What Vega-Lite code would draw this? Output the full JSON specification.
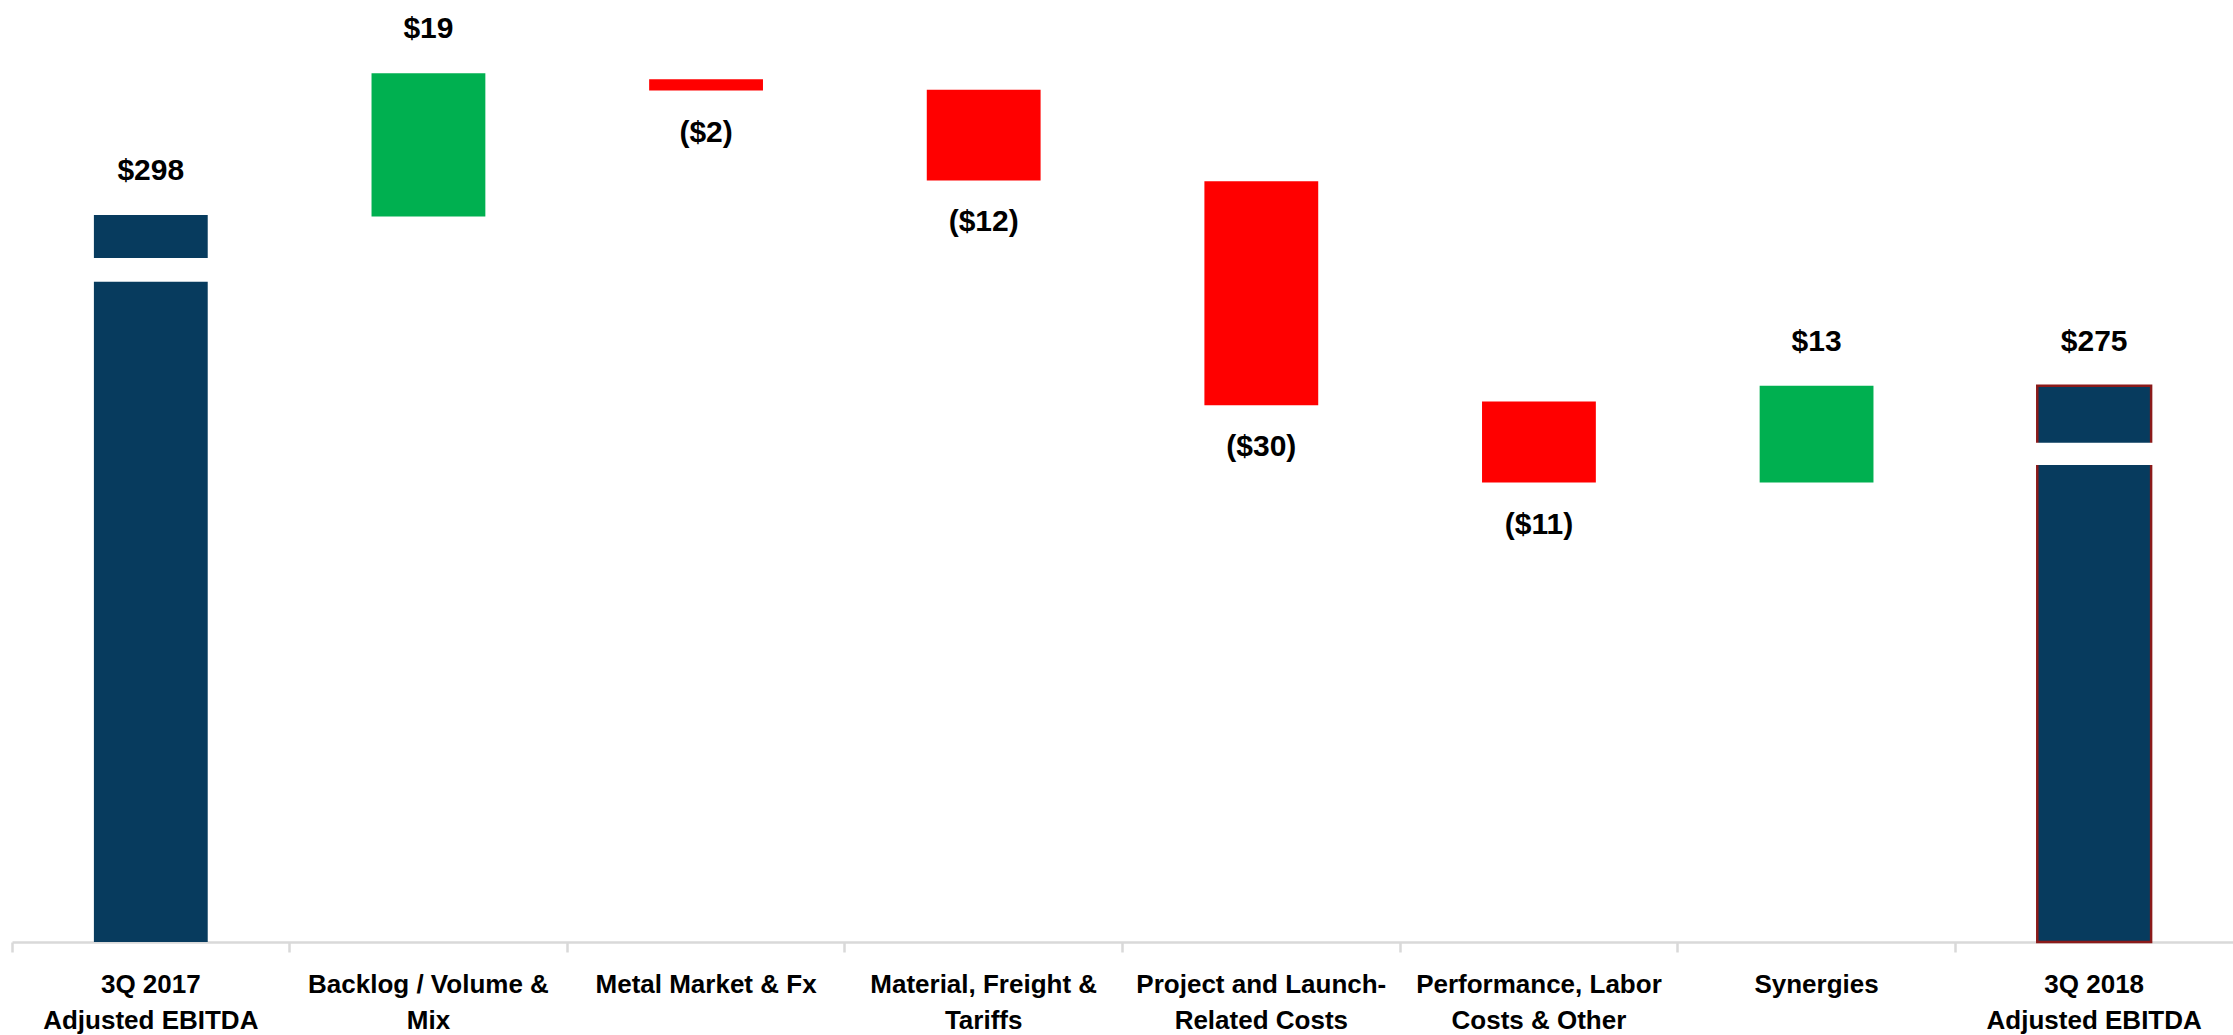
{
  "$schema": "https://vega.github.io/schema/vega-lite/v6.json",
  "width": 2221,
  "height": 942,
  "autosize": {"type": "none"},
  "padding": {"left": 12, "top": 0, "right": 0, "bottom": 93},
  "background": "white",
  "config": {"view": {"stroke": null}},
  "data": {
    "values": [
      {"category": "3Q 2017\nAdjusted EBITDA", "start": 201, "end": 298, "label": "$298", "type": "total", "breakHi": 292.26, "breakLo": 289.08},
      {"category": "Backlog / Volume &\nMix", "start": 297.8, "end": 316.9, "label": "$19", "type": "increase"},
      {"category": "Metal Market & Fx", "start": 316.1, "end": 314.6, "label": "($2)", "type": "decrease"},
      {"category": "Material, Freight &\nTariffs", "start": 314.7, "end": 302.6, "label": "($12)", "type": "decrease"},
      {"category": "Project and Launch-\nRelated Costs", "start": 302.5, "end": 272.6, "label": "($30)", "type": "decrease"},
      {"category": "Performance, Labor\nCosts & Other", "start": 273.1, "end": 262.3, "label": "($11)", "type": "decrease"},
      {"category": "Synergies", "start": 262.3, "end": 275.2, "label": "$13", "type": "increase"},
      {"category": "3Q 2018\nAdjusted EBITDA", "start": 201, "end": 275.2, "label": "$275", "type": "total", "breakHi": 267.62, "breakLo": 264.64}
    ]
  },
  "encoding": {
    "x": {
      "field": "category",
      "type": "nominal",
      "sort": null,
      "scale": {"paddingInner": 0, "paddingOuter": 0},
      "axis": {
        "title": null,
        "labelAngle": 0,
        "labelExpr": "split(datum.label, '\\n')",
        "labelFont": "Liberation Sans, Arial, sans-serif",
        "labelFontSize": 26,
        "labelFontWeight": "bold",
        "labelColor": "#000000",
        "labelLineHeight": 36,
        "labelPadding": 19,
        "labelLimit": 0,
        "domainColor": "#D9D9D9",
        "domainWidth": 2.5,
        "tickColor": "#D9D9D9",
        "tickWidth": 2.5,
        "tickSize": 10,
        "bandPosition": 0,
        "grid": false
      }
    }
  },
  "layer": [
    {
      "mark": {"type": "bar", "width": {"band": 0.41}},
      "encoding": {
        "y": {"field": "start", "type": "quantitative", "scale": {"domain": [201, 326.68], "zero": false, "nice": false}, "axis": null},
        "y2": {"field": "end"},
        "color": {
          "field": "type",
          "type": "nominal",
          "scale": {"domain": ["total", "increase", "decrease"], "range": ["#073B5E", "#00B050", "#FF0000"]},
          "legend": null
        },
        "stroke": {
          "condition": {"test": "indexof(datum.category, '3Q 2018') >= 0", "value": "#8B1A1A"},
          "value": null
        },
        "strokeWidth": {"value": 2.5}
      }
    },
    {
      "transform": [{"filter": "isValid(datum.breakHi)"}],
      "mark": {"type": "bar", "color": "#FFFFFF", "width": {"band": 0.45}},
      "encoding": {
        "y": {"field": "breakHi", "type": "quantitative"},
        "y2": {"field": "breakLo"}
      }
    },
    {
      "transform": [{"filter": "datum.type !== 'decrease'"}],
      "mark": {"type": "text", "baseline": "middle", "dy": -44, "font": "Liberation Sans, Arial, sans-serif", "fontSize": 30, "fontWeight": "bold", "color": "#000000"},
      "encoding": {
        "y": {"field": "end", "type": "quantitative"},
        "text": {"field": "label"}
      }
    },
    {
      "transform": [{"filter": "datum.type === 'decrease'"}],
      "mark": {"type": "text", "baseline": "middle", "dy": 42, "font": "Liberation Sans, Arial, sans-serif", "fontSize": 30, "fontWeight": "bold", "color": "#000000"},
      "encoding": {
        "y": {"field": "end", "type": "quantitative"},
        "text": {"field": "label"}
      }
    }
  ]
}
